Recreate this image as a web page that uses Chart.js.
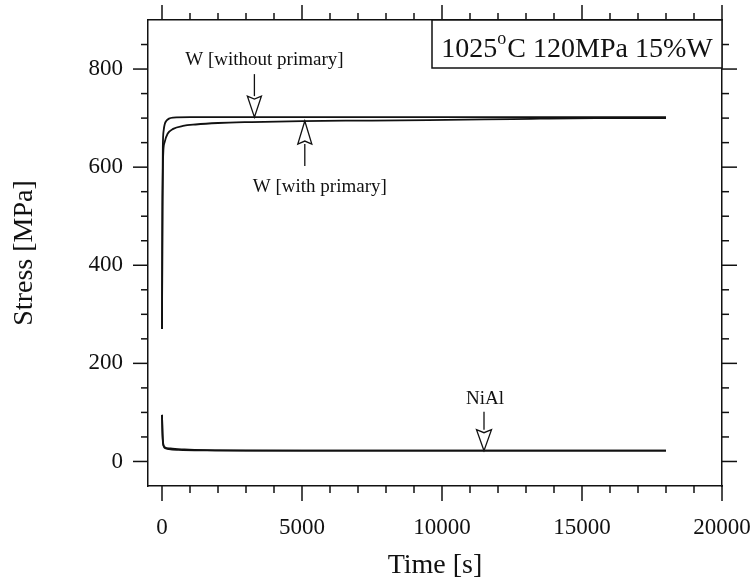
<!DOCTYPE html>
<html>
<head>
<meta charset="utf-8">
<script src="https://cdn.jsdelivr.net/npm/chart.js@4.4.1/dist/chart.umd.min.js"></script>
<style>
  html, body { margin: 0; padding: 0; background: #fff; }
  #wrap { width: 756px; height: 584px; }
</style>
</head>
<body>
<div id="wrap"><canvas id="c" width="756" height="584"></canvas></div>
<script>
// Creep test at 1025 C / 120 MPa, composite with 15 % W fibres:
// internal stress in the W fibres and in the NiAl matrix versus time.

// time samples [s]
const timeWo   = [0, 15, 30, 60, 100, 150, 250, 400, 1000, 3000, 8000, 13000, 18000];
const stressWo = [270, 520, 640, 675, 688, 694, 699, 701, 702, 702, 702, 702, 702];

const timeWp   = [0, 10, 20, 35, 50, 100, 200, 400, 750, 1200, 2000, 3200, 5000, 7500, 9500, 12500, 15500, 18000];
const stressWp = [270, 430, 540, 610, 635, 652, 668, 678, 684, 687, 690, 692, 694, 695, 696, 698, 700, 700];

const timeNiAl   = [0, 10, 20, 40, 70, 120, 250, 600, 1500, 5000, 10000, 18000];
const stressNiAl = [95, 75, 55, 38, 30, 27, 25, 23.5, 22.5, 22, 22, 22];

const timeNiAl2   = [0, 10, 25, 50, 100, 300, 800, 1600, 3000, 18000];
const stressNiAl2 = [95, 70, 45, 33, 29, 26.5, 24.5, 23, 22.3, 22];

// axis ticks
const xMajor = [0, 5000, 10000, 15000, 20000];
const xMinor = [1000, 2000, 3000, 4000, 6000, 7000, 8000, 9000, 11000, 12000, 13000, 14000, 16000, 17000, 18000, 19000];
const yMajor = [0, 200, 400, 600, 800];
const yMinor = [50, 100, 150, 250, 300, 350, 450, 500, 550, 650, 700, 750, 850];

// arrow labels: text and the data point each arrow points at
const noteText = ['W [without primary]', 'W [with primary]', 'NiAl'];
const noteTime = [3300, 5100, 11500];
const noteStress = [702, 694, 22];

const SERIF = "'Liberation Serif', 'Times New Roman', serif";

function pts(xs, ys) { return xs.map((x, i) => ({ x: x, y: ys[i] })); }

function lineSet(label, xs, ys) {
  return {
    label: label,
    data: pts(xs, ys),
    borderColor: '#111',
    borderWidth: 1.8,
    pointRadius: 0,
    fill: false,
    cubicInterpolationMode: 'monotone'
  };
}

// arrow geometry relative to its tip (px)
const noteStyle = [
  { dir: 'down', dx: 10, dy: -57, shaft: 22, head: 21, w: 14 },
  { dir: 'up',   dx: 15, dy: 66,  shaft: 22, head: 23, w: 14 },
  { dir: 'down', dx: 1,  dy: -52, shaft: 18, head: 21, w: 15 }
];

function drawArrow(ctx, x, y, s) {
  const sg = s.dir === 'down' ? -1 : 1;
  const baseY = y + sg * s.head;
  ctx.beginPath();
  ctx.moveTo(x, baseY);
  ctx.lineTo(x, baseY + sg * s.shaft);
  ctx.stroke();
  ctx.beginPath();
  ctx.moveTo(x, y);
  ctx.lineTo(x - s.w / 2, baseY);
  ctx.lineTo(x, baseY - sg * 3);
  ctx.lineTo(x + s.w / 2, baseY);
  ctx.closePath();
  ctx.fillStyle = '#fff';
  ctx.fill();
  ctx.stroke();
}

const framePlugin = {
  id: 'frame',
  afterDraw(chart) {
    const ctx = chart.ctx;
    const a = chart.chartArea;
    const xs = chart.scales.x, ys = chart.scales.y;
    ctx.save();
    ctx.strokeStyle = '#111';
    ctx.lineWidth = 1.5;
    ctx.lineCap = 'butt';

    // tick marks pointing outward on all four sides
    const seg = (x1, y1, x2, y2) => { ctx.beginPath(); ctx.moveTo(x1, y1); ctx.lineTo(x2, y2); ctx.stroke(); };
    const MAJ = 15, MIN = 7;
    xMajor.forEach(v => { const p = xs.getPixelForValue(v); seg(p, a.bottom, p, a.bottom + MAJ); seg(p, a.top, p, a.top - MAJ); });
    xMinor.forEach(v => { const p = xs.getPixelForValue(v); seg(p, a.bottom, p, a.bottom + MIN); seg(p, a.top, p, a.top - MIN); });
    yMajor.forEach(v => { const p = ys.getPixelForValue(v); seg(a.left, p, a.left - MAJ, p); seg(a.right, p, a.right + MAJ, p); });
    yMinor.forEach(v => { const p = ys.getPixelForValue(v); seg(a.left, p, a.left - MIN, p); seg(a.right, p, a.right + MIN, p); });

    // condition box in the upper right corner
    const bx = a.right - 290, by = a.top, bw = 290, bh = 48;
    ctx.fillStyle = '#fff';
    ctx.fillRect(bx, by, bw, bh);
    ctx.strokeRect(bx, by, bw, bh);
    ctx.fillStyle = '#111';
    ctx.textBaseline = 'alphabetic';
    ctx.textAlign = 'left';
    const big = '28px ' + SERIF, small = '18px ' + SERIF;
    ctx.font = big; const w1 = ctx.measureText('1025').width;
    const w3 = ctx.measureText('C 120MPa 15%W').width;
    ctx.font = small; const w2 = ctx.measureText('o').width + 1;
    let tx = bx + (bw - (w1 + w2 + w3)) / 2;
    const base = by + 37;
    ctx.font = big; ctx.fillText('1025', tx, base); tx += w1;
    ctx.font = small; ctx.fillText('o', tx, base - 13); tx += w2;
    ctx.font = big; ctx.fillText('C 120MPa 15%W', tx, base);

    // arrows with their labels
    ctx.lineWidth = 1.3;
    ctx.font = '19px ' + SERIF;
    ctx.textAlign = 'center';
    ctx.textBaseline = 'middle';
    noteText.forEach((t, i) => {
      const s = noteStyle[i];
      const px = xs.getPixelForValue(noteTime[i]);
      const py = ys.getPixelForValue(noteStress[i]);
      ctx.strokeStyle = '#111';
      drawArrow(ctx, px, py, s);
      ctx.fillStyle = '#111';
      ctx.fillText(t, px + s.dx, py + s.dy);
    });
    ctx.restore();
  }
};

// fixed box sizes so the plot area sits at the same place every time
function fixSize(w, h) {
  return s => {
    if (w !== null) s.width = w;
    if (h !== null) s.height = h;
    s.paddingLeft = 0; s.paddingRight = 0; s.paddingTop = 0; s.paddingBottom = 0;
  };
}

const tickFont = { family: SERIF, size: 23, lineHeight: 1.2 };
const titleFont = { family: SERIF, size: 28, lineHeight: 1.2 };
const border = { display: true, color: '#111', width: 1.5 };

new Chart(document.getElementById('c'), {
  type: 'line',
  data: {
    datasets: [
      lineSet('W [without primary]', timeWo, stressWo),
      lineSet('W [with primary]', timeWp, stressWp),
      lineSet('NiAl', timeNiAl, stressNiAl),
      lineSet('NiAl (with primary)', timeNiAl2, stressNiAl2)
    ]
  },
  options: {
    responsive: false,
    animation: false,
    events: [],
    layout: { padding: 0 },
    plugins: { legend: { display: false }, tooltip: { enabled: false } },
    scales: {
      x: {
        type: 'linear', position: 'bottom', min: -500, max: 20000,
        afterBuildTicks: s => { s.ticks = xMajor.map(v => ({ value: v })); },
        afterFit: fixSize(null, 98),
        grid: { display: false, drawTicks: false, tickLength: 0 },
        border: border,
        ticks: { font: tickFont, color: '#111', padding: 28, maxRotation: 0, autoSkip: false, callback: v => String(v) },
        title: { display: true, text: 'Time [s]', font: titleFont, color: '#111', padding: { top: 0, bottom: 2 } }
      },
      xTop: {
        type: 'linear', position: 'top', min: -500, max: 20000,
        afterBuildTicks: s => { s.ticks = xMajor.map(v => ({ value: v })); },
        afterFit: fixSize(null, 20),
        grid: { display: false, drawTicks: false, tickLength: 0 },
        border: border,
        ticks: { display: false }
      },
      y: {
        type: 'linear', position: 'left', min: -50, max: 900,
        afterBuildTicks: s => { s.ticks = yMajor.map(v => ({ value: v })); },
        afterFit: fixSize(148, null),
        grid: { display: false, drawTicks: false, tickLength: 0 },
        border: border,
        ticks: { font: tickFont, color: '#111', padding: 25, autoSkip: false, callback: v => String(v) },
        title: { display: true, text: 'Stress [MPa]', font: titleFont, color: '#111', padding: { top: 8, bottom: 0 } }
      },
      yRight: {
        type: 'linear', position: 'right', min: -50, max: 900,
        afterBuildTicks: s => { s.ticks = yMajor.map(v => ({ value: v })); },
        afterFit: fixSize(34, null),
        grid: { display: false, drawTicks: false, tickLength: 0 },
        border: border,
        ticks: { display: false }
      }
    }
  },
  plugins: [framePlugin]
});
</script>
</body>
</html>
